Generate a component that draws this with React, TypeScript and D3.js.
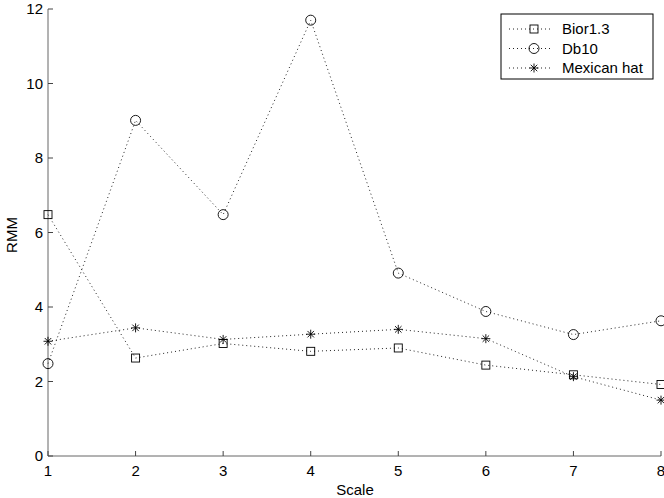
import * as d3 from "d3";

const scales = [1, 2, 3, 4, 5, 6, 7, 8];
const bior = [6.48, 2.63, 3.02, 2.81, 2.9, 2.44, 2.18, 1.92];
const db10 = [2.48, 9.01, 6.48, 11.7, 4.91, 3.88, 3.26, 3.63];
const mexHat = [3.08, 3.44, 3.13, 3.27, 3.4, 3.15, 2.13, 1.5];
const seriesNames = ["Bior1.3", "Db10", "Mexican hat"];
const yTicks = [0, 2, 4, 6, 8, 10, 12];

const W = 664;
const H = 498;
const margin = { left: 48, right: 3, top: 9, bottom: 42 };
const FONT = "'Liberation Sans', Arial, Helvetica, sans-serif";
const FS = 15;

function Marker({ kind, x, y }: { kind: number; x: number; y: number }) {
  if (kind === 0) {
    return <rect x={x - 4} y={y - 4} width={8} height={8} fill="none" stroke="#000" strokeWidth={0.9} />;
  }
  if (kind === 1) {
    return <circle cx={x} cy={y} r={5} fill="none" stroke="#000" strokeWidth={0.9} />;
  }
  const s = 4.5;
  const d = s * 0.72;
  return (
    <g stroke="#000" strokeWidth={0.9}>
      <line x1={x - s} y1={y} x2={x + s} y2={y} />
      <line x1={x} y1={y - s} x2={x} y2={y + s} />
      <line x1={x - d} y1={y - d} x2={x + d} y2={y + d} />
      <line x1={x - d} y1={y + d} x2={x + d} y2={y - d} />
    </g>
  );
}

export default function App() {
  const x = d3.scaleLinear().domain([1, 8]).range([margin.left, W - margin.right]);
  const y = d3.scaleLinear().domain([0, 12]).range([H - margin.bottom, margin.top]);
  const line = d3
    .line<number>()
    .x((_, i) => x(scales[i]))
    .y((d) => y(d));
  const allSeries = [bior, db10, mexHat];
  const y0 = y(0);

  // legend geometry
  const lg = { x: 501, y: 14, w: 152, h: 65 };
  const rowY = (i: number) => lg.y + 15 + i * 19.5;

  return (
    <svg
      width={W}
      height={H}
      style={{ position: "absolute", left: 0, top: 0, background: "#fff" }}
      fontFamily={FONT}
    >
      {/* axes */}
      <line x1={x(1)} y1={y0} x2={x(8)} y2={y0} stroke="#666" strokeWidth={1} />
      <line x1={x(1)} y1={y0} x2={x(1)} y2={y(12)} stroke="#666" strokeWidth={1} />
      {scales.map((s) => (
        <g key={"xt" + s}>
          <line x1={x(s)} x2={x(s)} y1={y0} y2={y0 - 5} stroke="#444" />
          <text x={x(s)} y={y0 + 20} fontSize={FS} textAnchor="middle" fill="#000">
            {s}
          </text>
        </g>
      ))}
      {yTicks.map((t) => (
        <g key={"yt" + t}>
          <line x1={x(1)} x2={x(1) + 5} y1={y(t)} y2={y(t)} stroke="#444" />
          <text x={x(1) - 5} y={y(t) + 5} fontSize={FS} textAnchor="end" fill="#000">
            {t}
          </text>
        </g>
      ))}
      <text x={355} y={495} fontSize={FS} textAnchor="middle">
        Scale
      </text>
      <text transform={`translate(17,${235}) rotate(-90)`} fontSize={FS} textAnchor="middle">
        RMM
      </text>

      {/* series */}
      {allSeries.map((vals, k) => (
        <g key={"s" + k}>
          <path d={line(vals) || ""} fill="none" stroke="#222" strokeWidth={1} strokeDasharray="1,3" />
          {vals.map((v, i) => (
            <Marker key={i} kind={k} x={x(scales[i])} y={y(v)} />
          ))}
        </g>
      ))}

      {/* legend */}
      <rect x={lg.x} y={lg.y} width={lg.w} height={lg.h} fill="#fff" stroke="#000" strokeWidth={1} />
      {seriesNames.map((name, i) => (
        <g key={"lg" + i}>
          <line x1={509} x2={553} y1={rowY(i)} y2={rowY(i)} stroke="#222" strokeDasharray="1,3" />
          <Marker kind={i} x={534} y={rowY(i)} />
          <text x={562} y={rowY(i) + 5} fontSize={FS}>
            {name}
          </text>
        </g>
      ))}
    </svg>
  );
}
